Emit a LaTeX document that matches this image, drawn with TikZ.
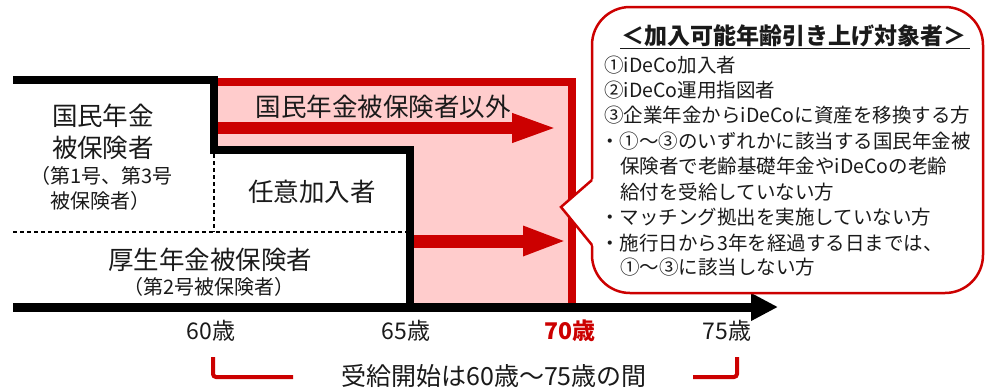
\documentclass[tikz,border=0pt]{standalone}
\usepackage{fontspec}
\setmainfont{Noto Sans CJK JP}
\usetikzlibrary{arrows.meta}
\definecolor{jred}{HTML}{CC0000}
\definecolor{jpink}{HTML}{FFCCCC}
\definecolor{jtxt}{HTML}{1A1A1A}
\begin{document}
\begin{tikzpicture}[x=1pt,y=-1pt,
  big/.style={inner sep=0pt, text=jtxt, font=\fontsize{25.5}{30}\selectfont, text height=22.4pt, text depth=3.1pt},
  small/.style={inner sep=0pt, text=jtxt, font=\fontsize{20}{24}\selectfont, text height=17.6pt, text depth=2.4pt},
  cline/.style={inner sep=0pt, anchor=west, text=jtxt, font=\fontsize{19.5}{24}\selectfont, text height=17.2pt, text depth=2.3pt},
  ttl/.style={inner sep=0pt, text=jtxt, font=\fontsize{23}{27}\selectfont\bfseries, text height=20.2pt, text depth=2.8pt},
  axl/.style={inner sep=0pt, text=jtxt, font=\fontsize{23}{27}\selectfont, text height=20.2pt, text depth=2.8pt},
  blackline/.style={line width=8pt, black, line join=miter},
  redline/.style={line width=8pt, jred, line join=miter},
  dashline/.style={line width=1.3pt, black, dash pattern=on 4pt off 3pt},
  bracket/.style={line width=4pt, jred, rounded corners=3pt},
  callout/.style={line width=2.5pt, draw=jred, fill=white}]
\useasboundingbox (0,0) rectangle (986,389);
% pink region and red frame
\fill[jpink] (214,78) -- (572,78) -- (572,306) -- (410,306) -- (410,150) -- (214,150) -- cycle;
\draw[redline] (217,82) -- (572,82) -- (572,306);
% red arrows
\draw[jred, line width=12pt, -{Triangle[length=46pt,width=26pt]}] (217,128) -- (558,128);
\draw[jred, line width=13pt, -{Triangle[length=44pt,width=27pt]}] (414,241) -- (567,241);
% dashed separators
\draw[dashline] (214,154) -- (214,232);
\draw[dashline] (13,232) -- (406,232);
% black step line
\draw[blackline] (13,80) -- (214,80) -- (214,150) -- (410,150) -- (410,307);
% axis
\draw[line width=9pt, black, -{Triangle[length=27pt,width=26pt]}] (13,307) -- (778,307);
% text in diagram
\node[big] (kokumin1) at (103,116) {国民年金};
\node[big] (kokumin2) at (103,148) {被保険者};
\node[small, anchor=west] (kokumin3) at (30,176) {（第1号、第3号};
\node[small, anchor=west] (kokumin4) at (50,201) {被保険者）};
\node[big] (nini) at (312,192) {任意加入者};
\node[big] (kosei1) at (210,260) {厚生年金被保険者};
\node[small] (kosei2) at (209,287) {（第2号被保険者）};
\node[big] (igai) at (383,107) {国民年金被保険者以外};
% axis labels
\node[axl] (a60) at (211,331) {60歳};
\node[axl] (a65) at (406,331) {65歳};
\node[axl, text=jred, font=\fontsize{23}{27}\selectfont\bfseries] (a70) at (570,331) {70歳};
\node[axl] (a75) at (727,331) {75歳};
% bottom bracket
\draw[bracket] (213,357) -- (213,377) -- (293,377);
\draw[bracket] (693,377) -- (737,377) -- (737,357);
\node[big, font=\fontsize{25}{30}\selectfont] (juryo) at (494,376) {受給開始は60歳～75歳の間};
% callout
\draw[callout, rounded corners=38pt] (592,7) rectangle (983,293);
\fill[white] (594.5,178) -- (561,207) -- (594.5,247) -- cycle;
\draw[jred, line width=2.5pt, line join=miter] (592,180) -- (561,207) -- (592,245);
\node[ttl] (title) at (794,36) {＜加入可能年齢引き上げ対象者＞};
\draw[line width=1.6pt, jtxt] (620,48.5) -- (970,48.5);
\node[cline] (c1) at (604,65) {①iDeCo加入者};
\node[cline] (c2) at (604,90) {②iDeCo運用指図者};
\node[cline] (c3) at (604,115) {③企業年金からiDeCoに資産を移換する方};
\node[cline] (c4) at (600,141) {・①～③のいずれかに該当する国民年金被};
\node[cline] (c5) at (620,166) {保険者で老齢基礎年金やiDeCoの老齢};
\node[cline] (c6) at (620,192) {給付を受給していない方};
\node[cline] (c7) at (600,217) {・マッチング拠出を実施していない方};
\node[cline] (c8) at (600,243) {・施行日から3年を経過する日までは、};
\node[cline] (c9) at (620,267) {①～③に該当しない方};
\end{tikzpicture}
\end{document}
